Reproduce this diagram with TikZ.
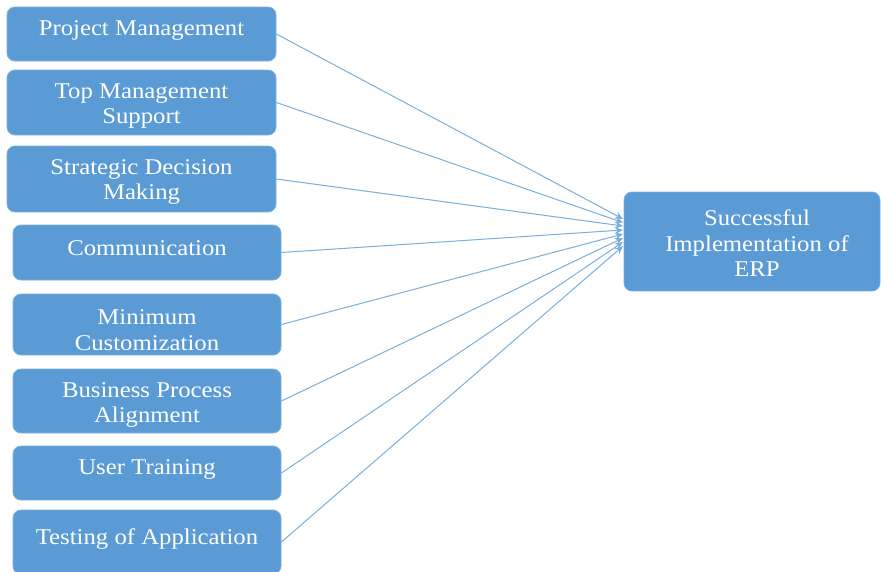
\documentclass[tikz,border=0pt]{standalone}
\usepackage{fontspec}
\setmainfont{Liberation Serif}[FakeStretch=1.1]
\usetikzlibrary{arrows.meta}
\definecolor{boxblue}{HTML}{5B9BD5}
\definecolor{lineblue}{HTML}{7AAEDD}
\begin{document}
\begin{tikzpicture}[x=1pt,y=1pt,
  box/.style={draw=boxblue!80!white, line width=0.8pt, fill=boxblue, rounded corners=8pt, inner sep=0pt},
  lbl/.style={text=white, align=center, inner sep=0pt, font=\fontsize{22.5}{25.5}\selectfont},
  link/.style={draw=lineblue, line width=1pt, -{Stealth[length=8pt,width=7pt]}}]
\useasboundingbox (0,0) rectangle (881,-571);
% factor boxes
\node[box, minimum width=269pt, minimum height=54pt] (b1) at (141.5,-34) {};
\node[box, minimum width=269pt, minimum height=65pt] (b2) at (141.5,-102.5) {};
\node[box, minimum width=269pt, minimum height=66pt] (b3) at (141.5,-179) {};
\node[box, minimum width=268pt, minimum height=55pt] (b4) at (147,-252.5) {};
\node[box, minimum width=268pt, minimum height=61pt] (b5) at (147,-324.5) {};
\node[box, minimum width=268pt, minimum height=64pt] (b6) at (147,-401) {};
\node[box, minimum width=268pt, minimum height=54pt] (b7) at (147,-473) {};
\node[box, minimum width=268pt, minimum height=64pt] (b8) at (147,-542) {};
% target box
\node[box, minimum width=256pt, minimum height=99pt] (t) at (752,-241.5) {};
% labels
\node[lbl] (l1) at (141.5,-30) {Project Management};
\node[lbl] (l2) at (141.5,-106) {Top Management\\Support};
\node[lbl] (l3) at (141.5,-182) {Strategic Decision\\Making};
\node[lbl] (l4) at (147,-248) {Communication};
\node[lbl] (l5) at (147,-330) {Minimum\\Customization};
\node[lbl] (l6) at (147,-405) {Business Process\\Alignment};
\node[lbl] (l7) at (147,-469) {User Training};
\node[lbl] (l8) at (147,-539) {Testing of Application};
\node[lbl] (lt) at (757,-243.5) {Successful\\Implementation of\\ERP};
% arrow end points on the target's left side
\coordinate (e1) at (623,-219);
\coordinate (e2) at (623,-222.5);
\coordinate (e3) at (623,-226);
\coordinate (e4) at (623,-230);
\coordinate (e5) at (623,-234);
\coordinate (e6) at (623,-238);
\coordinate (e7) at (623,-242);
\coordinate (e8) at (623,-246);
% connectors
\draw[link] (b1.east) -- (e1);
\draw[link] (b2.east) -- (e2);
\draw[link] (b3.east) -- (e3);
\draw[link] (b4.east) -- (e4);
\draw[link] (b5.east) -- (e5);
\draw[link] (b6.east) -- (e6);
\draw[link] (b7.east) -- (e7);
\draw[link] (b8.east) -- (e8);
\end{tikzpicture}
\end{document}
